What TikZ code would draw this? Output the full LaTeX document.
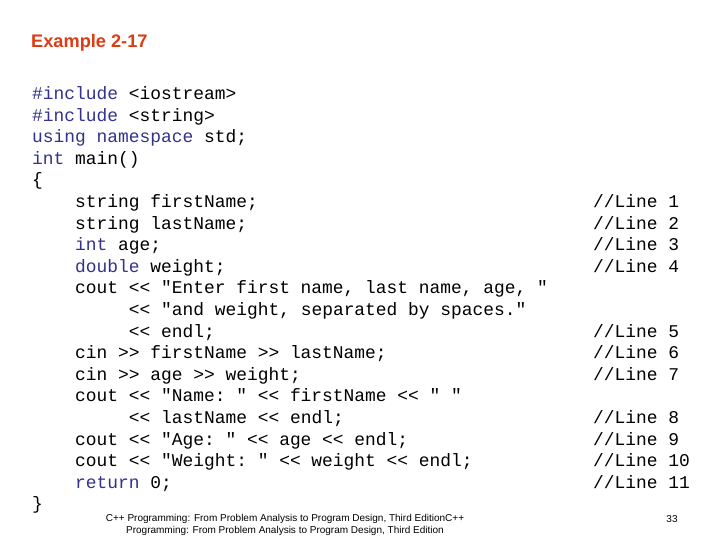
\documentclass[tikz,border=0pt]{standalone}
\usepackage{fontspec}
\setmainfont{Liberation Sans}
\setmonofont{Liberation Mono}
\definecolor{kwblue}{RGB}{50,50,140}
\definecolor{titlered}{RGB}{220,60,20}
\newcommand{\kw}[1]{\textcolor{kwblue}{#1}}
\begin{document}
\begin{tikzpicture}[x=1pt,y=-1pt,inner sep=0,
  codeline/.style={anchor=base west,font=\ttfamily\fontsize{17.9}{20}\selectfont},
  footer/.style={font=\fontsize{10}{12}\selectfont}]
\useasboundingbox (0,0) rectangle (720,540);
\node[anchor=base west,font=\bfseries\fontsize{18.2}{20}\selectfont,text=titlered] (title) at (31,48) {Example 2-17};
%code lines, column width 10.75
\node[codeline] (l0) at (32,99.5) {\kw{\#include} <iostream>};
\node[codeline] (l1) at (32,121.1) {\kw{\#include} <string>};
\node[codeline] (l2) at (32,142.7) {\kw{using namespace} std;};
\node[codeline] (l3) at (32,164.3) {\kw{int} main()};
\node[codeline] (l4) at (32,185.9) {\{};
\node[codeline] (l5) at (75,207.5) {string firstName;};
\node[codeline] (l6) at (75,229.1) {string lastName;};
\node[codeline] (l7) at (75,250.7) {\kw{int} age;};
\node[codeline] (l8) at (75,272.3) {\kw{double} weight;};
\node[codeline] (l9) at (75,293.9) {cout << "Enter first name, last name, age, "};
\node[codeline] (l10) at (128.75,315.5) {<< "and weight, separated by spaces."};
\node[codeline] (l11) at (128.75,337.1) {<< endl;};
\node[codeline] (l12) at (75,358.7) {cin >> firstName >> lastName;};
\node[codeline] (l13) at (75,380.3) {cin >> age >> weight;};
\node[codeline] (l14) at (75,401.9) {cout << "Name: " << firstName << " "};
\node[codeline] (l15) at (128.75,423.5) {<< lastName << endl;};
\node[codeline] (l16) at (75,445.1) {cout << "Age: " << age << endl;};
\node[codeline] (l17) at (75,466.7) {cout << "Weight: " << weight << endl;};
\node[codeline] (l18) at (75,488.3) {\kw{return} 0;};
\node[codeline] (l19) at (32,509.9) {\}};
%line comments
\foreach \n/\row in {1/5,2/6,3/7,4/8,5/11,6/12,7/13,8/15,9/16,10/17,11/18}
  \node[codeline] (c\n) at (593,99.5+21.6*\row) {//Line \n};
%footer
\node[footer,align=center] (foot) at (285,525) {C++ Programming: From Problem Analysis to Program Design, Third EditionC++\\Programming: From Problem Analysis to Program Design, Third Edition};
\node[footer] (page) at (672,519) {33};
\end{tikzpicture}
\end{document}
